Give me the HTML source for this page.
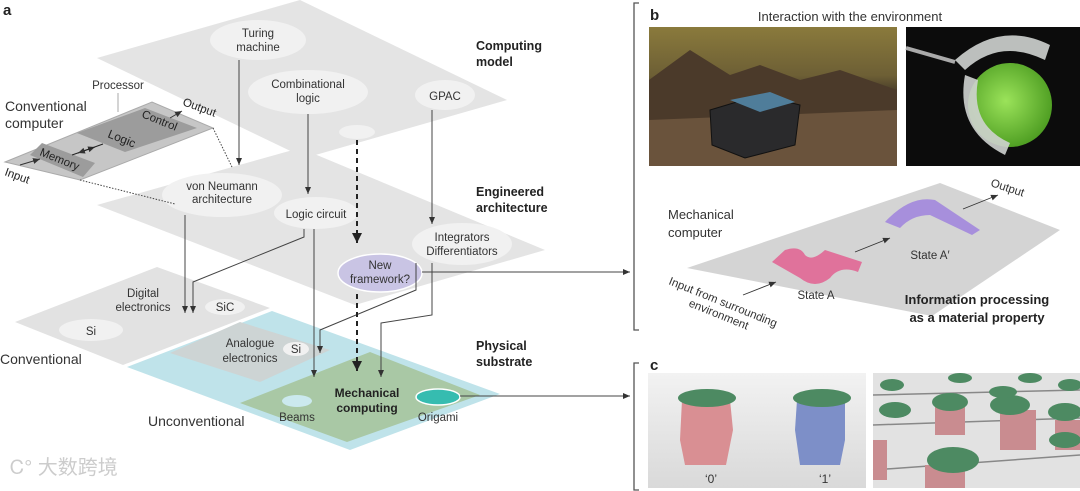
<!DOCTYPE html>
<html><head><meta charset="utf-8"><style>
html,body{margin:0;padding:0;background:#fff;}
svg{display:block;font-family:"Liberation Sans",Arial,sans-serif;}
</style></head><body>
<svg width="1080" height="491" viewBox="0 0 1080 491" xmlns="http://www.w3.org/2000/svg">
<defs>
<marker id="a" markerWidth="8" markerHeight="8" refX="7" refY="4" orient="auto" markerUnits="userSpaceOnUse"><path d="M0,1 L7,4 L0,7 Z" fill="#333"/></marker>
<marker id="ab" markerWidth="12" markerHeight="12" refX="10" refY="6" orient="auto" markerUnits="userSpaceOnUse"><path d="M0,1 L10,6 L0,11 Z" fill="#222"/></marker>
<linearGradient id="sky" x1="0" y1="0" x2="0" y2="1"><stop offset="0" stop-color="#8a7a3c"/><stop offset="0.35" stop-color="#6d5f35"/><stop offset="0.5" stop-color="#3d3226"/><stop offset="1" stop-color="#5a4632"/></linearGradient>
<radialGradient id="ball" cx="0.45" cy="0.45" r="0.6"><stop offset="0" stop-color="#9be35a"/><stop offset="1" stop-color="#4a9a1f"/></radialGradient>
<linearGradient id="cbg" x1="0" y1="0" x2="0" y2="1"><stop offset="0" stop-color="#f2f2f2"/><stop offset="1" stop-color="#d9d9d9"/></linearGradient>
</defs>

<text x="3" y="15" font-size="15" font-weight="bold" fill="#222">a</text>

<polygon points="97,58 300,0 507,100 305,158" fill="#e4e4e4"/>
<polygon points="97,205 300,148 545,250 355,305" fill="#e4e4e4"/>
<polygon points="15,322 157,267 270,308 123,365" fill="#e2e2e2"/>
<polygon points="127,367 272,311 500,394 350,450" fill="#bfe3ea"/>
<polygon points="170,353 240,322 330,350 260,382" fill="#cdd4d4"/>
<polygon points="240,403 370,352 480,395 347,442" fill="#a9c8a5"/>

<ellipse cx="258" cy="40" rx="48" ry="20" fill="#f1f1f1"/>
<ellipse cx="308" cy="92" rx="60" ry="22" fill="#f1f1f1"/>
<ellipse cx="445" cy="95" rx="30" ry="15" fill="#f1f1f1"/>
<ellipse cx="357" cy="132" rx="18" ry="7" fill="#f1f1f1"/>
<ellipse cx="222" cy="195" rx="60" ry="22" fill="#f1f1f1"/>
<ellipse cx="316" cy="213" rx="42" ry="16" fill="#f1f1f1"/>
<ellipse cx="462" cy="244" rx="50" ry="21" fill="#f1f1f1"/>
<ellipse cx="91" cy="330" rx="32" ry="11" fill="#f1f1f1"/>
<ellipse cx="225" cy="307" rx="20" ry="8" fill="#f1f1f1"/>
<ellipse cx="296" cy="349" rx="13" ry="7" fill="#f1f1f1"/>
<ellipse cx="297" cy="401" rx="15" ry="6" fill="#cbe9ee"/>
<ellipse cx="438" cy="397" rx="22" ry="8" fill="#36bcb0" stroke="#fff" stroke-width="1.5"/>
<ellipse cx="380" cy="273" rx="42" ry="19" fill="#c9c4e4" stroke="#fff" stroke-width="1.5"/>

<polygon points="5,162 152,102 213,128 80,180" fill="#c6c6c6" stroke="#aaa" stroke-width="1"/>
<polygon points="77,133 145,108 197,128 125,152" fill="#9c9c9c"/>
<polygon points="30,155 42,143 95,163 83,177" fill="#9c9c9c"/>
<line x1="72" y1="155" x2="95" y2="147" stroke="#222" stroke-width="1" marker-end="url(#a)"/>
<line x1="103" y1="144" x2="78" y2="153" stroke="#222" stroke-width="1" marker-end="url(#a)"/>
<line x1="20" y1="165" x2="40" y2="159" stroke="#333" stroke-width="1" marker-end="url(#a)"/>
<line x1="170" y1="118" x2="182" y2="111" stroke="#333" stroke-width="1" marker-end="url(#a)"/>
<line x1="118" y1="93" x2="118" y2="112" stroke="#aaa" stroke-width="1"/>
<line x1="213" y1="128" x2="232" y2="167" stroke="#444" stroke-width="1" stroke-dasharray="1.5,1.5"/>
<line x1="80" y1="180" x2="175" y2="204" stroke="#444" stroke-width="1" stroke-dasharray="1.5,1.5"/>

<g stroke="#444" stroke-width="1" fill="none">
<line x1="239" y1="60" x2="239" y2="165" marker-end="url(#a)"/>
<line x1="308" y1="114" x2="308" y2="194" marker-end="url(#a)"/>
<line x1="432" y1="110" x2="432" y2="224" marker-end="url(#a)"/>
<line x1="185" y1="215" x2="185" y2="313" marker-end="url(#a)"/>
<polyline points="304,229 304,237 193,282 193,313" marker-end="url(#a)"/>
<line x1="314" y1="229" x2="314" y2="377" marker-end="url(#a)"/>
<polyline points="416,263 416,290 320,330 320,353" marker-end="url(#a)"/>
<polyline points="432,263 432,315 381,323 381,377" marker-end="url(#a)"/>
<line x1="422" y1="272" x2="630" y2="272" marker-end="url(#a)"/>
<line x1="460" y1="396" x2="630" y2="396" marker-end="url(#a)"/>
</g>
<line x1="357" y1="140" x2="357" y2="243" stroke="#222" stroke-width="2" stroke-dasharray="5,4" marker-end="url(#ab)"/>
<line x1="357" y1="294" x2="357" y2="371" stroke="#222" stroke-width="2" stroke-dasharray="5,4" marker-end="url(#ab)"/>

<g font-size="11.5" fill="#333" text-anchor="middle">
<text x="258" y="37">Turing</text><text x="258" y="51">machine</text>
<text x="308" y="88">Combinational</text><text x="308" y="102">logic</text>
<text x="445" y="100">GPAC</text>
<text x="222" y="190">von Neumann</text><text x="222" y="203">architecture</text>
<text x="316" y="218">Logic circuit</text>
<text x="462" y="241">Integrators</text><text x="462" y="255">Differentiators</text>
<text x="380" y="269">New</text><text x="380" y="283">framework?</text>
<text x="143" y="297">Digital</text><text x="143" y="311">electronics</text>
<text x="225" y="311">SiC</text>
<text x="91" y="335">Si</text>
<text x="250" y="347">Analogue</text><text x="250" y="362">electronics</text>
<text x="296" y="353">Si</text>
<text x="297" y="421">Beams</text>
<text x="438" y="421">Origami</text>
<text x="118" y="89">Processor</text>
</g>
<g font-size="12.5" font-weight="bold" fill="#222">
<text x="476" y="50">Computing</text><text x="476" y="66">model</text>
<text x="476" y="196">Engineered</text><text x="476" y="212">architecture</text>
<text x="476" y="350">Physical</text><text x="476" y="366">substrate</text>
<text x="367" y="397" text-anchor="middle" font-size="12">Mechanical</text>
<text x="367" y="412" text-anchor="middle" font-size="12">computing</text>
</g>
<g font-size="14" fill="#333">
<text x="5" y="111">Conventional</text><text x="5" y="128">computer</text>
<text x="0" y="364">Conventional</text>
<text x="148" y="426">Unconventional</text>
</g>
<g font-size="11.5" fill="#222">
<text transform="translate(141,117) rotate(22)">Control</text>
<text transform="translate(107,137) rotate(22)" font-size="12">Logic</text>
<text transform="translate(39,155) rotate(22)">Memory</text>
<text transform="translate(4,175) rotate(20)">Input</text>
<text transform="translate(182,105) rotate(20)">Output</text>
</g>
<text x="10" y="474" font-size="20" fill="#ccc" font-family="'Liberation Sans','Noto Sans CJK SC',sans-serif">Ꮯ° 大数跨境</text>

<g stroke="#555" stroke-width="1.3" fill="none">
<polyline points="639,3 634,3 634,330 639,330"/>
<polyline points="639,363 634,363 634,490 639,490"/>
</g>
<text x="650" y="20" font-size="15" font-weight="bold" fill="#222">b</text>
<text x="850" y="21" font-size="13" fill="#333" text-anchor="middle">Interaction with the environment</text>
<rect x="649" y="27" width="248" height="139" fill="url(#sky)"/>
<polygon points="649,80 690,50 730,75 760,65 800,80 840,70 897,90 897,166 649,166" fill="#4b3a2a"/>
<polygon points="649,120 897,110 897,166 649,166" fill="#6a533c"/>
<polygon points="710,110 760,95 800,105 795,145 745,158 712,145" fill="#2a2a2c" stroke="#111"/>
<polygon points="730,100 770,92 795,102 760,112" fill="#4f7d9a"/>
<rect x="906" y="27" width="174" height="139" fill="#0c0c0c"/>
<circle cx="1010" cy="105" r="42" fill="url(#ball)"/>
<path d="M955,60 Q1000,20 1050,45 L1045,60 Q1000,38 965,70 Z" fill="#cfd3d0" opacity="0.9"/>
<path d="M965,75 Q955,130 1005,155 L1010,143 Q970,125 978,80 Z" fill="#cfd3d0" opacity="0.9"/>
<line x1="906" y1="48" x2="955" y2="62" stroke="#aaa" stroke-width="4"/>

<polygon points="687,268 940,183 1060,230 932,316" fill="#d4d4d4"/>
<path d="M772,262 L785,250 Q800,245 805,255 Q812,262 825,250 L862,262 L858,272 Q840,265 830,278 Q815,290 800,278 Z" fill="#e0729b"/>
<path d="M885,222 Q910,195 935,200 L980,230 L972,235 L930,215 Q912,215 900,228 Z" fill="#a78fdc"/>
<line x1="855" y1="252" x2="890" y2="238" stroke="#333" stroke-width="0.9" marker-end="url(#a)"/>
<line x1="963" y1="209" x2="998" y2="195" stroke="#333" stroke-width="0.9" marker-end="url(#a)"/>
<line x1="743" y1="295" x2="776" y2="282" stroke="#333" stroke-width="0.9" marker-end="url(#a)"/>
<g font-size="13" fill="#333">
<text x="668" y="219">Mechanical</text><text x="668" y="237">computer</text>
</g>
<g font-size="11.5" fill="#333">
<text x="816" y="299" text-anchor="middle">State A</text>
<text x="930" y="259" text-anchor="middle">State A′</text>
<text transform="translate(990,186) rotate(18)">Output</text>
<text transform="translate(668,284) rotate(22)">Input from surrounding</text>
<text transform="translate(688,306) rotate(22)">environment</text>
</g>
<g font-size="13" font-weight="bold" fill="#222" text-anchor="middle">
<text x="977" y="304">Information processing</text>
<text x="977" y="322">as a material property</text>
</g>

<text x="650" y="370" font-size="15" font-weight="bold" fill="#222">c</text>
<rect x="648" y="373" width="218" height="115" fill="url(#cbg)"/>
<rect x="873" y="373" width="207" height="115" fill="#e2e2e2"/>
<polygon points="682,400 730,400 733,430 726,465 685,465 680,440" fill="#d98f93"/>
<ellipse cx="707" cy="398" rx="29" ry="9" fill="#4d8a62"/>
<polygon points="797,400 845,400 845,440 840,465 800,465 795,430" fill="#7d8fc8"/>
<ellipse cx="822" cy="398" rx="29" ry="9" fill="#4d8a62"/>
<text x="711" y="483" font-size="12" fill="#333" text-anchor="middle">‘0’</text>
<text x="825" y="483" font-size="12" fill="#333" text-anchor="middle">‘1’</text>
<g stroke="#888" stroke-width="1.5">
<line x1="873" y1="470" x2="1080" y2="455"/><line x1="873" y1="425" x2="1080" y2="418"/><line x1="873" y1="395" x2="1080" y2="390"/>
</g>
<g fill="#c98c90">
<rect x="873" y="440" width="14" height="40"/><rect x="925" y="465" width="40" height="23"/><rect x="1000" y="410" width="36" height="40"/>
<rect x="935" y="405" width="30" height="30"/><rect x="1055" y="420" width="25" height="30"/>
</g>
<g fill="#4d8a62">
<ellipse cx="953" cy="460" rx="26" ry="13"/><ellipse cx="1010" cy="405" rx="20" ry="10"/><ellipse cx="1065" cy="412" rx="17" ry="9"/>
<ellipse cx="950" cy="402" rx="18" ry="9"/><ellipse cx="895" cy="410" rx="16" ry="8"/><ellipse cx="892" cy="385" rx="12" ry="6"/>
<ellipse cx="960" cy="378" rx="12" ry="5"/><ellipse cx="1030" cy="378" rx="12" ry="5"/><ellipse cx="1070" cy="385" rx="12" ry="6"/>
<ellipse cx="1003" cy="392" rx="14" ry="6"/><ellipse cx="1065" cy="440" rx="16" ry="8"/>
</g>
</svg>
</body></html>
